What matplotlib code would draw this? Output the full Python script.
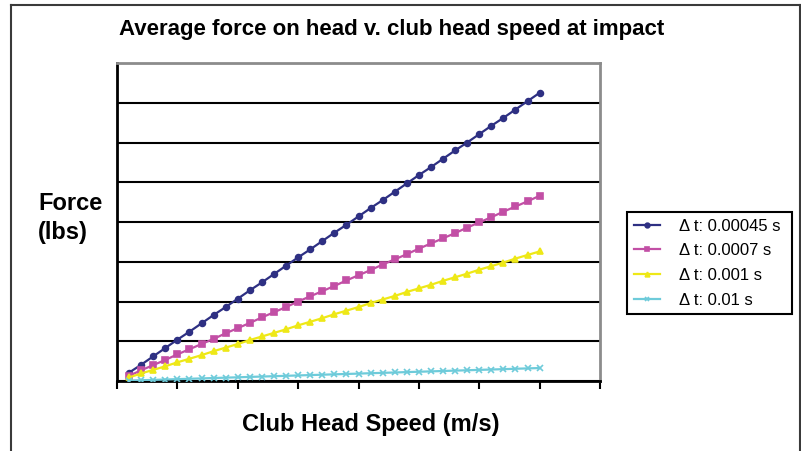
import matplotlib
matplotlib.use("Agg")
import matplotlib.pyplot as plt
from matplotlib.lines import Line2D

plt.rcParams["font.family"] = ["Liberation Sans", "DejaVu Sans"]

# club head speed (m/s)
SPEED = list(range(1, 36))

# average force (lbs) for each impact duration
F_00045 = [21, 41, 62, 83, 104, 124, 145, 166, 186, 207, 228, 248, 269, 290, 311,
           331, 352, 373, 393, 414, 435, 455, 476, 497, 518, 538, 559, 580, 600,
           621, 642, 662, 683, 704, 725]
F_0007 = [13, 27, 40, 53, 67, 80, 93, 106, 120, 133, 146, 160, 173, 186, 200,
          213, 226, 239, 253, 266, 279, 293, 306, 319, 333, 346, 359, 372, 386,
          399, 412, 426, 439, 452, 466]
F_001 = [9, 19, 28, 37, 47, 56, 65, 75, 84, 93, 103, 112, 121, 130, 140,
         149, 158, 168, 177, 186, 196, 205, 214, 224, 233, 242, 252, 261, 270,
         280, 289, 298, 308, 317, 326]
F_01 = [0.9, 1.9, 2.8, 3.7, 4.7, 5.6, 6.5, 7.5, 8.4, 9.3, 10.3, 11.2, 12.1, 13.0,
        14.0, 14.9, 15.8, 16.8, 17.7, 18.6, 19.6, 20.5, 21.4, 22.4, 23.3, 24.2,
        25.2, 26.1, 27.0, 28.0, 28.9, 29.8, 30.8, 31.7, 32.6]

LABELS = ["Δ t: 0.00045 s", "Δ t: 0.0007 s", "Δ t: 0.001 s", "Δ t: 0.01 s"]
COLORS = ["#2E3083", "#C24FA5", "#EEE817", "#6ECBDA"]
MARKERS = ["o", "s", "^", "x"]

W, H = 801, 451
fig = plt.figure(figsize=(W / 100, H / 100), dpi=100)
ax = fig.add_axes([117 / W, 1 - 381 / H, (600 - 117) / W, (381 - 63) / H])

for ys, lab, col, mk in zip([F_00045, F_0007, F_001, F_01], LABELS, COLORS, MARKERS):
    ax.plot(SPEED, ys, color=col, lw=1.6, marker=mk, ms=4.2 if mk != "x" else 4,
            mew=1.2, label=lab, zorder=3)

ax.set_xlim(0, 40)
ax.set_ylim(0, 800)
ax.set_xticks(range(0, 41, 5))
ax.set_xticklabels([])
ax.set_yticks(range(0, 801, 100))
ax.set_yticklabels([])
ax.tick_params(axis="x", direction="out", length=6, width=1.5, color="black")
ax.tick_params(axis="y", length=0)
ax.grid(axis="y", color="black", lw=1.5)
ax.set_axisbelow(True)
for s in ["left", "bottom"]:
    ax.spines[s].set_color("black")
    ax.spines[s].set_linewidth(2)
for s in ["top", "right"]:
    ax.spines[s].set_color("#8C8C8C")
    ax.spines[s].set_linewidth(2)

fig.text(392 / W, 1 - 30 / H, "Average force on head v. club head speed at impact",
         ha="center", va="center", fontsize=16, fontweight="bold")
fig.text(371 / W, 1 - 424 / H, "Club Head Speed (m/s)",
         ha="center", va="center", fontsize=17, fontweight="bold")
fig.text(38 / W, 1 - 218 / H, "Force\n(lbs)", ha="left", va="center",
         fontsize=17, fontweight="bold", linespacing=1.3)

leg = fig.legend(loc="upper left", bbox_to_anchor=(627 / W, 1 - 313 / H, 165 / W, 101 / H),
                 bbox_transform=fig.transFigure, borderaxespad=0, mode="expand",
                 fancybox=False, framealpha=1, edgecolor="black",
                 fontsize=12, handlelength=1.6, handletextpad=1.1,
                 labelspacing=0.58, borderpad=0.4, markerscale=0.8)
leg.get_frame().set_linewidth(1.5)

# outer chart frame
fc = "#3A3A3A"
fig.add_artist(Line2D([11 / W, 11 / W], [0, 1 - 5 / H], color=fc, lw=1.5))
fig.add_artist(Line2D([11 / W, 800 / W], [1 - 5 / H, 1 - 5 / H], color=fc, lw=1.5))
fig.add_artist(Line2D([800 / W, 800 / W], [0, 1 - 5 / H], color=fc, lw=1.5))

fig.savefig("out.png", dpi=100)
